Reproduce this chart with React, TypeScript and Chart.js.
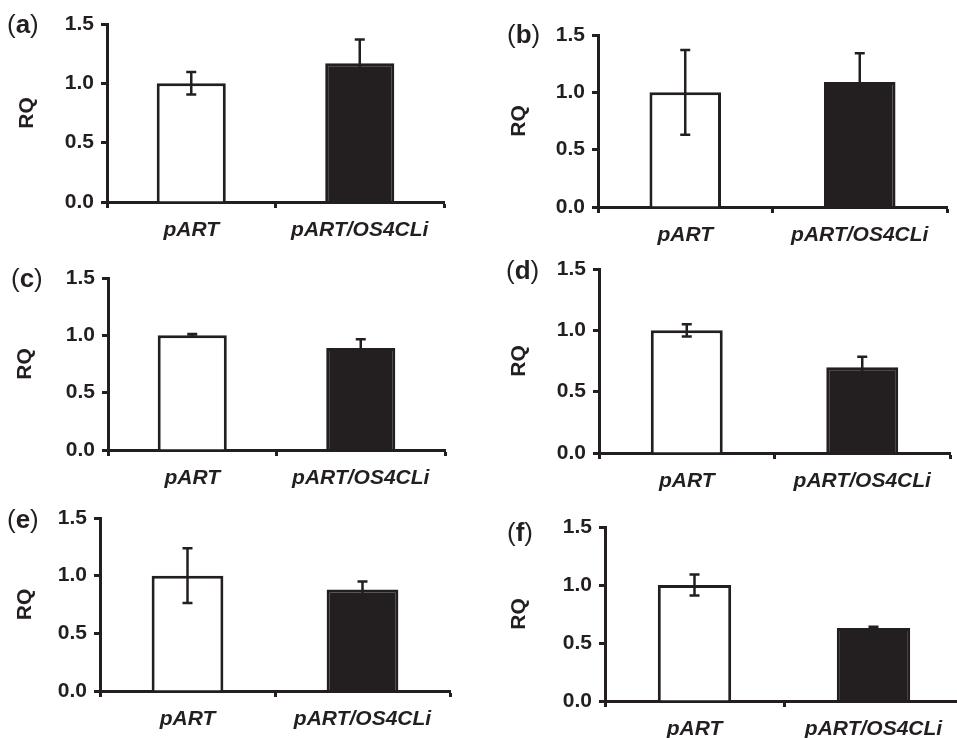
import React, { useEffect, useRef } from 'react';
import { Chart, registerables } from 'chart.js';

Chart.register(...registerables);

// ---- data ----
const categories = ['pART', 'pART/OS4CLi'];
const yTickValues = [0, 0.5, 1.0, 1.5];

const rqA = [1.0, 1.17];
const errA = [0.095, 0.2];
const rqB = [1.0, 1.09];
const errB = [0.37, 0.25];
const rqC = [1.0, 0.89];
const errC = [0.012, 0.075];
const rqD = [1.0, 0.7];
const errD = [0.05, 0.085];
const rqE = [1.0, 0.88];
const errE = [0.237, 0.07];
const rqF = [1.0, 0.63];
const errF = [0.09, 0.01];

// ---- style / layout ----
const INK = '#231f20';
const FONT = '"Liberation Sans", Arial, Helvetica, sans-serif';
const Y_W = 100;
const X_H = 50;
const PAD_T = 20;
const PAD_R = 4;

type Panel = {
  letter: string;
  values: number[];
  errors: number[];
  axisX: number;
  axisRight: number;
  yTop: number;
  yBottom: number;
  labelX: number;
  labelY: number;
  rqPad: number;
};

const panels: Panel[] = [
  { letter: 'a', values: rqA, errors: errA, axisX: 107, axisRight: 444, yTop: 24, yBottom: 202, labelX: 7, labelY: 26, rqPad: 8 },
  { letter: 'b', values: rqB, errors: errB, axisX: 598, axisRight: 947, yTop: 35, yBottom: 207, labelX: 507, labelY: 36, rqPad: 9 },
  { letter: 'c', values: rqC, errors: errC, axisX: 108, axisRight: 445, yTop: 278, yBottom: 450, labelX: 11, labelY: 280, rqPad: 5 },
  { letter: 'd', values: rqD, errors: errD, axisX: 599, axisRight: 950, yTop: 269, yBottom: 453, labelX: 506, labelY: 272, rqPad: 8 },
  { letter: 'e', values: rqE, errors: errE, axisX: 100, axisRight: 450, yTop: 518, yBottom: 691, labelX: 7, labelY: 521, rqPad: 13 },
  { letter: 'f', values: rqF, errors: errF, axisX: 605, axisRight: 963, yTop: 527, yBottom: 701, labelX: 507, labelY: 534, rqPad: 2 },
];

function PanelChart({ p }: { p: Panel }) {
  const ref = useRef<HTMLCanvasElement | null>(null);
  const left = p.axisX - Y_W;
  const top = p.yTop - PAD_T;
  const w = p.axisRight - p.axisX + Y_W + PAD_R;
  const h = p.yBottom - p.yTop + PAD_T + X_H;

  useEffect(() => {
    if (!ref.current) return;
    const errorBars = {
      id: 'errorBars',
      afterDatasetsDraw(chart: any) {
        const meta = chart.getDatasetMeta(0);
        const ys = chart.scales.y;
        const ctx = chart.ctx;
        ctx.save();
        ctx.strokeStyle = INK;
        ctx.lineWidth = 2.5;
        meta.data.forEach((bar: any, i: number) => {
          const v = p.values[i];
          const e = p.errors[i];
          const x = bar.x;
          const yHi = ys.getPixelForValue(v + e);
          const yLo = ys.getPixelForValue(v - e);
          ctx.beginPath();
          ctx.moveTo(x, yHi);
          ctx.lineTo(x, yLo);
          ctx.moveTo(x - 5, yHi);
          ctx.lineTo(x + 5, yHi);
          ctx.moveTo(x - 5, yLo);
          ctx.lineTo(x + 5, yLo);
          ctx.stroke();
        });
        ctx.restore();
      },
    };
    const panelLabel = {
      id: 'panelLabel',
      afterDraw(chart: any) {
        const ctx = chart.ctx;
        ctx.save();
        ctx.fillStyle = INK;
        ctx.textBaseline = 'middle';
        ctx.textAlign = 'left';
        let x = p.labelX - left;
        const y = p.labelY - top;
        const parts: [string, string][] = [['(', 'normal'], [p.letter, 'bold'], [')', 'normal']];
        for (const [t, wt] of parts) {
          ctx.font = `${wt} 26px ${FONT}`;
          ctx.fillText(t, x, y);
          x += ctx.measureText(t).width;
        }
        ctx.restore();
      },
    };
    const chart = new Chart(ref.current, {
      type: 'bar',
      data: {
        labels: categories,
        datasets: [
          {
            data: p.values,
            backgroundColor: ['#ffffff', INK],
            borderColor: INK,
            borderWidth: 3,
            borderSkipped: 'start',
            barPercentage: 0.41,
            categoryPercentage: 1,
          },
        ],
      },
      options: {
        responsive: false,
        animation: false,
        devicePixelRatio: 1,
        layout: { padding: { top: PAD_T, left: 0, right: PAD_R, bottom: 0 } },
        plugins: { legend: { display: false }, tooltip: { enabled: false } },
        scales: {
          x: {
            type: 'category',
            offset: true,
            z: 1,
            grid: { offset: true, drawOnChartArea: false, drawTicks: true, tickLength: 6, tickWidth: 3, tickColor: INK },
            border: { display: true, width: 3, color: INK },
            ticks: {
              color: INK,
              font: { family: FONT, size: 21, weight: 'bold', style: 'italic' },
              padding: 10,
              maxRotation: 0,
              autoSkip: false,
            },
            afterFit(s: any) {
              s.height = X_H;
            },
          },
          y: {
            min: 0,
            max: 1.5,
            z: 1,
            afterBuildTicks(s: any) {
              s.ticks = yTickValues.map((v) => ({ value: v }));
            },
            ticks: {
              callback: (v: any) => Number(v).toFixed(1),
              color: INK,
              font: { family: FONT, size: 21, weight: 'bold' },
              padding: 7,
            },
            grid: { drawOnChartArea: false, drawTicks: true, tickLength: 6, tickWidth: 3, tickColor: INK },
            border: { display: true, width: 3, color: INK },
            title: {
              display: true,
              text: 'RQ',
              color: INK,
              font: { family: FONT, size: 21, weight: 'bold' },
              padding: { top: p.rqPad, bottom: 0 },
            },
            afterFit(s: any) {
              s.width = Y_W;
            },
          },
        },
      } as any,
      plugins: [errorBars, panelLabel],
    });
    return () => chart.destroy();
  }, []);

  return (
    <canvas
      ref={ref}
      width={w}
      height={h}
      style={{ position: 'absolute', left, top, width: w, height: h }}
    />
  );
}

export default function App() {
  return (
    <div
      style={{
        position: 'absolute',
        left: 0,
        top: 0,
        width: 957,
        height: 738,
        overflow: 'hidden',
        background: '#ffffff',
      }}
    >
      {panels.map((p) => (
        <PanelChart key={p.letter} p={p} />
      ))}
    </div>
  );
}
